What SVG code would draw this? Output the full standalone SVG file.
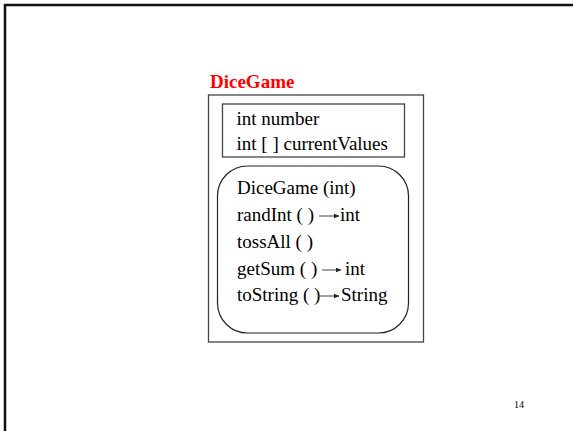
<svg xmlns="http://www.w3.org/2000/svg" width="573" height="431" viewBox="0 0 573 431">
<style>
.t{font-family:"Liberation Serif","Times New Roman",serif;font-size:19px;fill:#000}
.box{fill:none;stroke:#444;stroke-width:1.3}
.arr{stroke:#444;stroke-width:1;fill:none;marker-end:url(#ah)}
</style>
<defs>
<marker id="ah" viewBox="0 0 6 6" refX="5.5" refY="3" markerWidth="6" markerHeight="6" markerUnits="userSpaceOnUse" orient="auto">
<path d="M0,0.5 L6,3 L0,5.5 Z" fill="#222"/>
</marker>
</defs>
<rect width="573" height="431" fill="#fff"/>
<g id="frame">
<path d="M5,431 L5,5 L573,5" fill="none" stroke="#111" stroke-width="2.5"/>
</g>
<g id="dicegame">
<text x="210" y="88" font-family="Liberation Serif,Times New Roman,serif" font-size="19" font-weight="bold" fill="#ff0000">DiceGame</text>
<rect class="box" x="208.5" y="95" width="215" height="247"/>
</g>
<g id="attributes">
<rect class="box" x="222.5" y="104" width="182" height="53"/>
<text class="t" x="236.5" y="125">int number</text>
<text class="t" x="236.5" y="150">int [ ] currentValues</text>
</g>
<g id="methods">
<rect x="217.5" y="166" width="191" height="167" rx="30" ry="30" fill="none" stroke="#222" stroke-width="1.2"/>
<text class="t" x="237" y="194">DiceGame (int)</text>
<text class="t" x="237" y="221">randInt ( )</text>
<text class="t" x="340" y="221">int</text>
<text class="t" x="237" y="248">tossAll ( )</text>
<text class="t" x="237" y="275">getSum ( )</text>
<text class="t" x="345" y="275">int</text>
<text class="t" x="237" y="301">toString ( )</text>
<text class="t" x="341" y="301">String</text>
</g>
<g id="connectors">
<line class="arr" x1="319" y1="216" x2="339" y2="216"/>
<line class="arr" x1="322" y1="270" x2="341" y2="270"/>
<line class="arr" x1="318" y1="296" x2="339" y2="296"/>
</g>
<text x="514" y="408" font-family="Liberation Serif,Times New Roman,serif" font-size="10" fill="#000">14</text>
</svg>
